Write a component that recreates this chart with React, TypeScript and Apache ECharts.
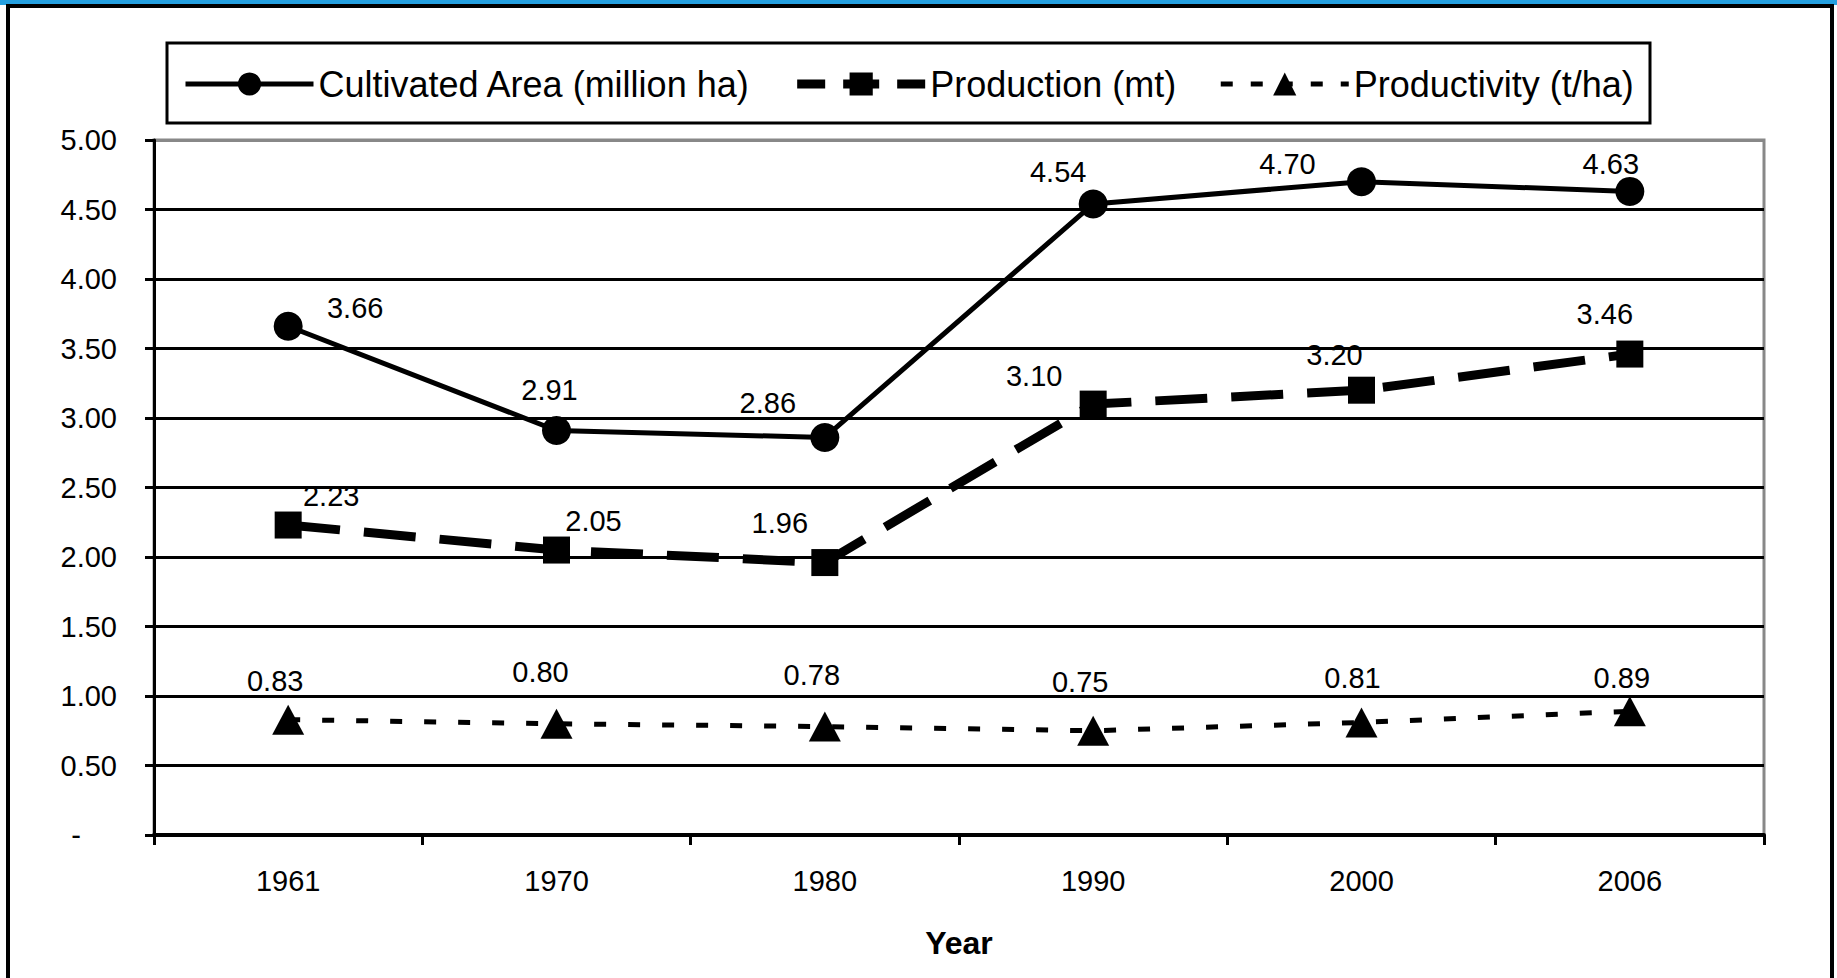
import React, { useEffect, useRef } from 'react';
import * as echarts from 'echarts';

const years = ['1961', '1970', '1980', '1990', '2000', '2006'];
const cultivatedArea = [3.66, 2.91, 2.86, 4.54, 4.7, 4.63];
const production = [2.23, 2.05, 1.96, 3.1, 3.2, 3.46];
const productivity = [0.83, 0.8, 0.78, 0.75, 0.81, 0.89];
const seriesNames = ['Cultivated Area (million ha)', 'Production (mt)', 'Productivity (t/ha)'];
const axisName = 'Year';

// label offsets (style only) relative to each marker
const areaLabelOffsets = [[67, -18], [-7, -41], [-57, -34], [-35, -32], [-74, -18], [-19, -27]];
const productionLabelOffsets = [[43, -29], [37, -29], [-45, -40], [-59, -28], [-27, -35], [-25, -40]];
const productivityLabelOffsets = [[-13, -39], [-16, -52], [-13, -52], [-13, -49], [-9, -44], [-8, -33]];

const FONT = '"Liberation Sans", Arial, sans-serif';

const lineStyles: any[] = [
  { color: '#000', width: 5, type: 'solid' },
  { color: '#000', width: 9, type: [52, 24], cap: 'butt' },
  { color: '#000', width: 5, type: [12, 22], cap: 'butt' },
];
const legendLineStyles: any[] = [
  { color: '#000', width: 5, type: 'solid' },
  { color: '#000', width: 9, type: 'dashed', dashOffset: 8 },
  { color: '#000', width: 5, type: [12, 18] },
];

function withOffsets(values: number[], offsets: number[][]) {
  return values.map((v, i) => ({ value: v, label: { offset: offsets[i] } }));
}

const dataLabel = {
  show: true,
  position: 'inside',
  align: 'center',
  verticalAlign: 'middle',
  color: '#000',
  fontSize: 29,
  fontFamily: FONT,
  formatter: (p: any) => Number(p.value).toFixed(2),
};

export default function App() {
  const ref = useRef<HTMLDivElement>(null);
  useEffect(() => {
    if (!ref.current) return;
    const chart = echarts.init(ref.current, undefined, { renderer: 'svg' });
    const splitColors = Array.from({ length: 11 }, (_, i) => (i === 10 ? '#888888' : '#000000'));
    chart.setOption({
      animation: false,
      backgroundColor: '#ffffff',
      textStyle: { fontFamily: FONT, color: '#000' },
      graphic: [
        { type: 'rect', shape: { x: 0, y: 0, width: 1837, height: 5 }, style: { fill: '#25A0E0' }, z: 0 },
        { type: 'rect', shape: { x: 8, y: 6, width: 1824, height: 1000 }, style: { fill: 'none', stroke: '#000', lineWidth: 4 }, z: 0 },
        { type: 'rect', shape: { x: 167, y: 43, width: 1483, height: 80 }, style: { fill: '#fff', stroke: '#000', lineWidth: 3 }, z: 0 },
      ],
      legend: {
        data: seriesNames.map((n, i) => ({ name: n, lineStyle: { ...legendLineStyles[i] } })),
        top: 66,
        left: 183,
        padding: 0,
        itemWidth: 128,
        itemHeight: 29,
        itemGap: 42,
        textStyle: { fontSize: 36, color: '#000', fontFamily: FONT },
        z: 10,
      },
      grid: {
        left: 154,
        right: 73,
        top: 140,
        bottom: 143,
        show: true,
        borderColor: '#888888',
        borderWidth: 3,
        backgroundColor: '#ffffff',
        outerBoundsMode: 'none',
      },
      xAxis: {
        type: 'category',
        data: years,
        boundaryGap: true,
        name: axisName,
        nameLocation: 'middle',
        nameGap: 92,
        nameTextStyle: { fontSize: 32, fontWeight: 'bold', color: '#000', fontFamily: FONT },
        axisLine: { show: true, lineStyle: { color: '#000', width: 4 } },
        axisTick: { show: true, alignWithLabel: false, length: 10, lineStyle: { color: '#000', width: 3 } },
        axisLabel: { fontSize: 29, color: '#000', margin: 31, fontFamily: FONT },
        splitLine: { show: false },
      },
      yAxis: {
        type: 'value',
        min: 0,
        max: 5,
        interval: 0.5,
        axisLine: { show: true, lineStyle: { color: '#000', width: 3 } },
        axisTick: { show: true, length: 9, lineStyle: { color: '#000', width: 3 } },
        axisLabel: {
          fontSize: 29,
          color: '#000',
          margin: 37,
          fontFamily: FONT,
          formatter: (v: number) => (v === 0 ? '{d|-}' : v.toFixed(2)),
          rich: { d: { fontSize: 29, color: '#000', padding: [0, 36, 0, 0], fontFamily: FONT } },
        },
        splitLine: { show: true, lineStyle: { color: splitColors, width: 3 } },
      },
      series: [
        {
          name: seriesNames[0],
          type: 'line',
          data: withOffsets(cultivatedArea, areaLabelOffsets),
          symbol: 'circle',
          symbolSize: 29,
          lineStyle: lineStyles[0],
          itemStyle: { color: '#000', borderWidth: 0 },
          label: dataLabel,
          z: 3,
        },
        {
          name: seriesNames[1],
          type: 'line',
          data: withOffsets(production, productionLabelOffsets),
          symbol: 'rect',
          symbolSize: 27,
          lineStyle: lineStyles[1],
          itemStyle: { color: '#000', borderWidth: 0 },
          label: dataLabel,
          z: 3,
        },
        {
          name: seriesNames[2],
          type: 'line',
          data: withOffsets(productivity, productivityLabelOffsets),
          symbol: 'triangle',
          symbolSize: [32, 30],
          lineStyle: lineStyles[2],
          itemStyle: { color: '#000', borderWidth: 0 },
          label: dataLabel,
          z: 3,
        },
      ],
    });
    return () => chart.dispose();
  }, []);
  return (
    <div
      ref={ref}
      style={{ position: 'fixed', left: 0, top: 0, width: 1837, height: 978, background: '#fff' }}
    />
  );
}
